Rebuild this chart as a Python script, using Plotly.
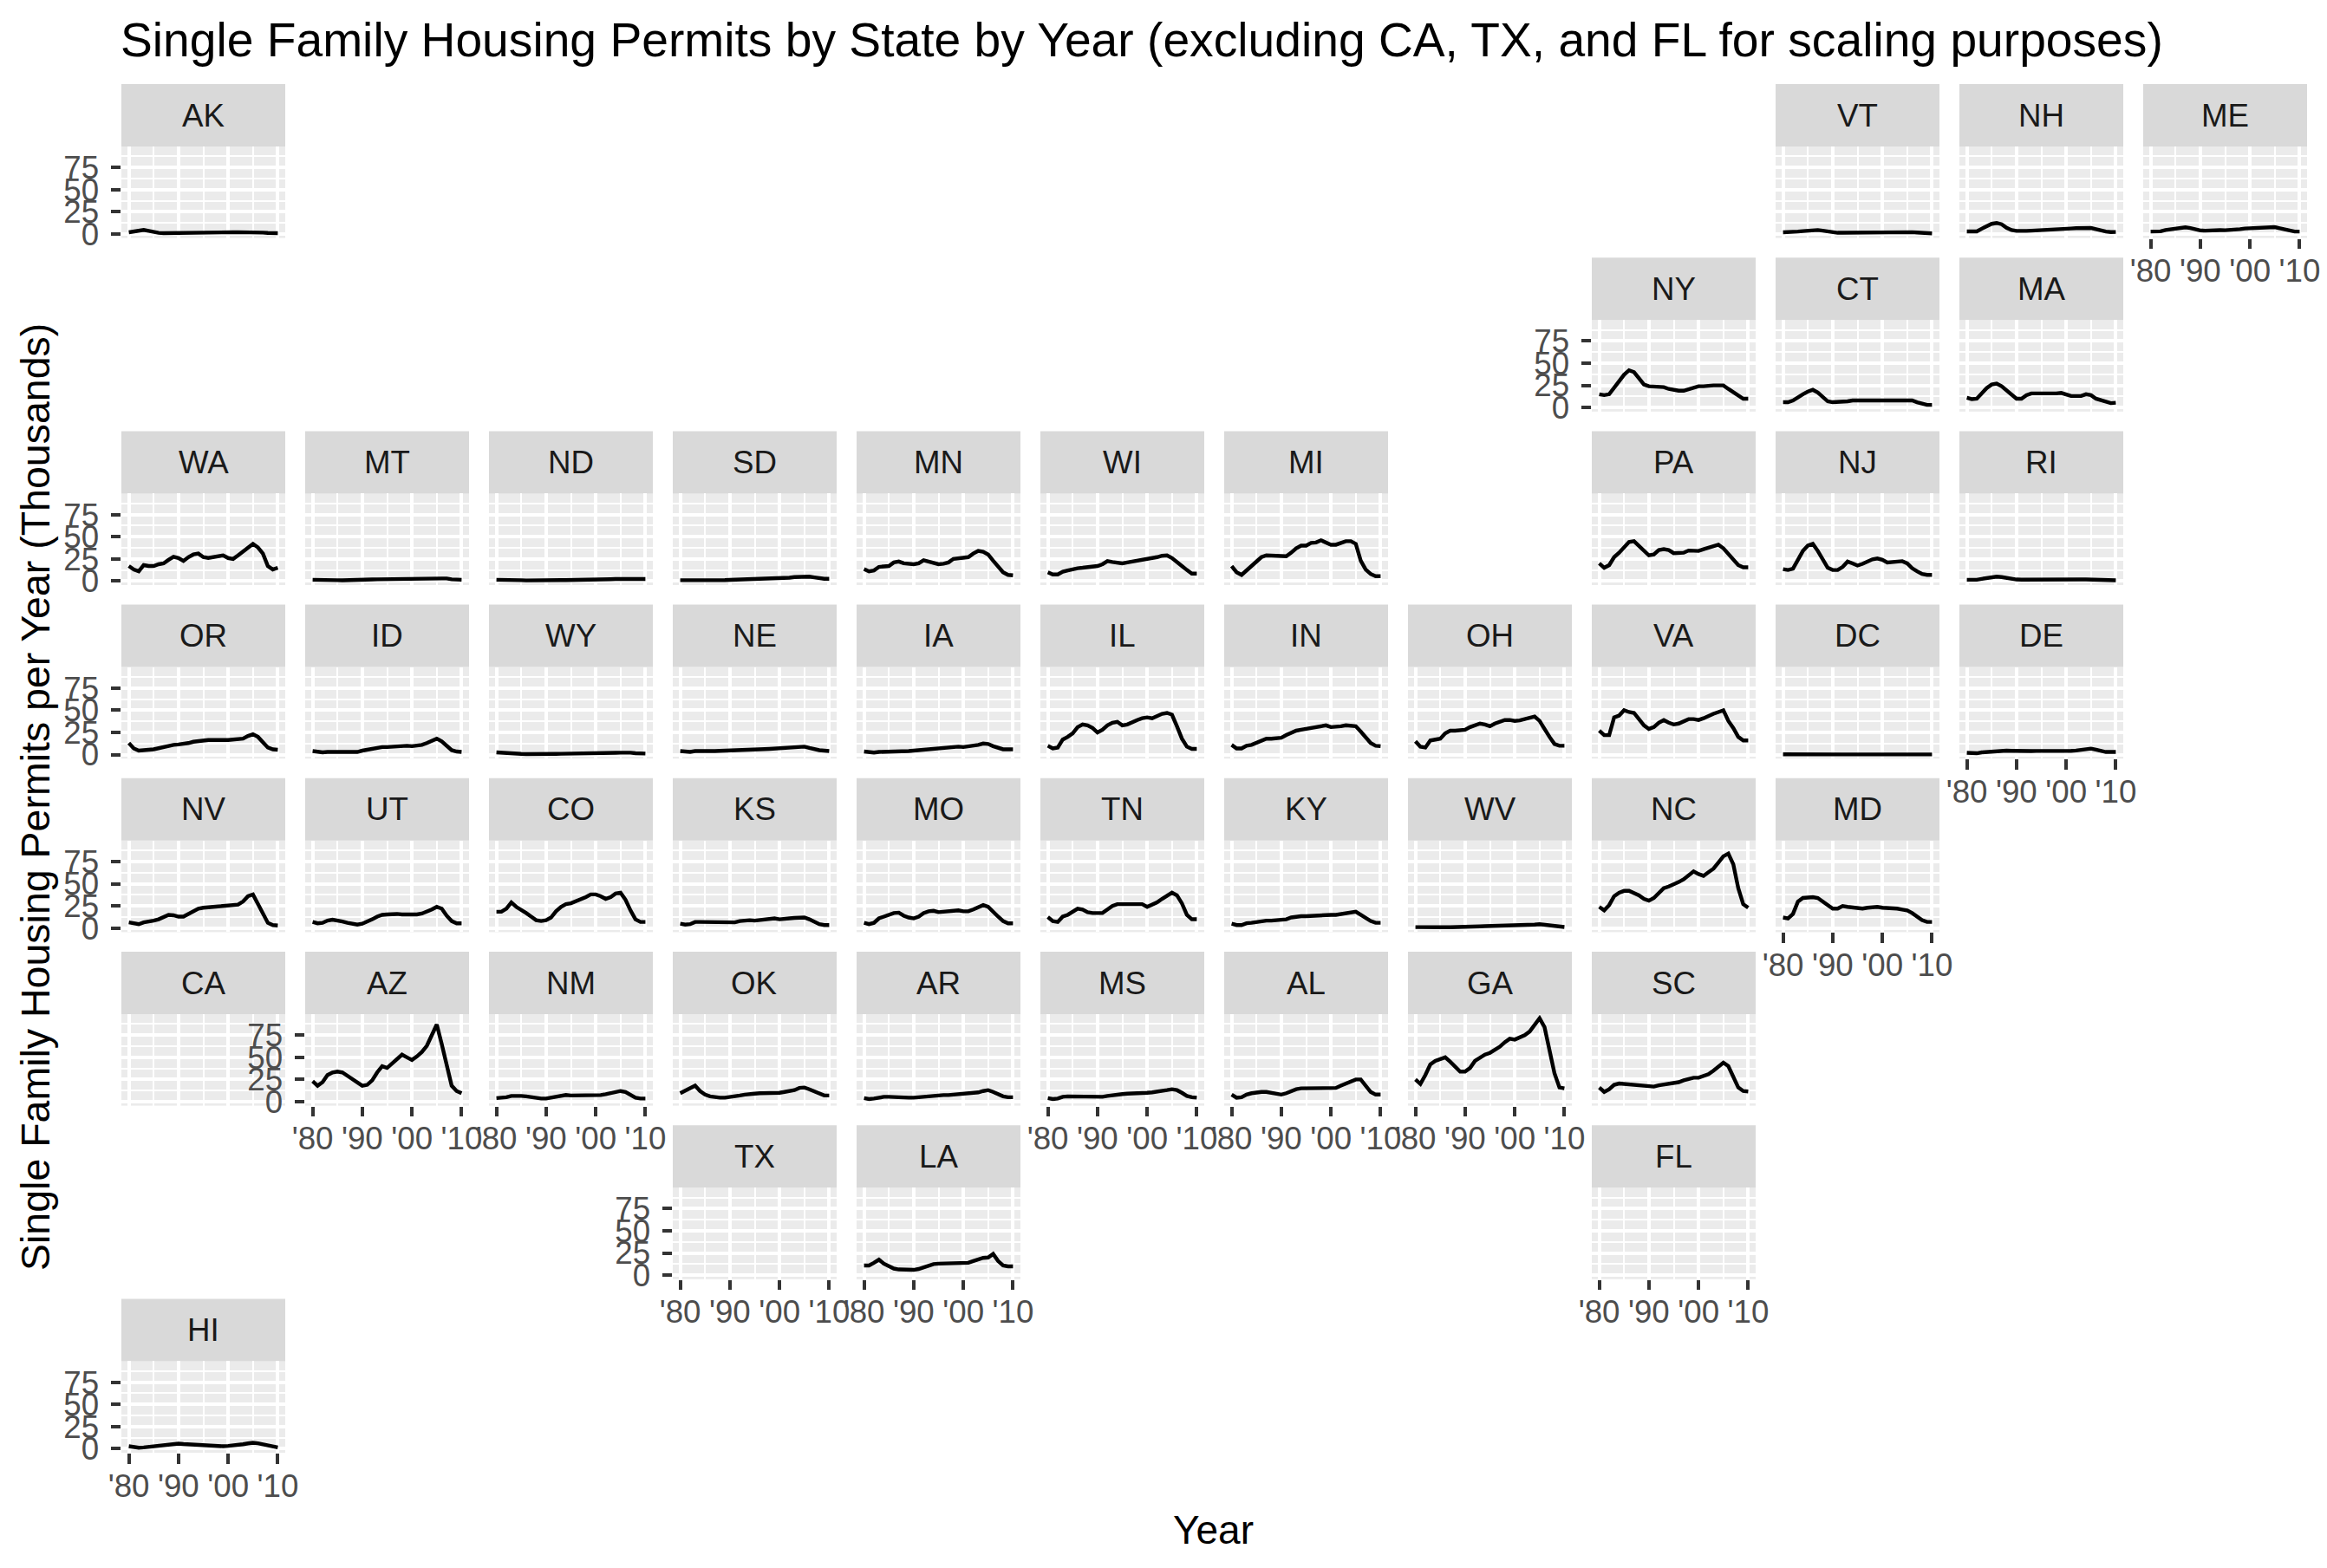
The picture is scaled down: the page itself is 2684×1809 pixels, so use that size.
import plotly.graph_objects as go

W, H = 2684, 1809
FONT = "Liberation Sans, Arial, sans-serif"

TITLE = "Single Family Housing Permits by State by Year (excluding CA, TX, and FL for scaling purposes)"
Y_TITLE = "Single Family Housing Permits per Year (Thousands)"
X_TITLE = "Year"

years = list(range(1980, 2011))
x_tick_vals = [1980, 1990, 2000, 2010]
x_tick_text = ["'80", "'90", "'00", "'10"]
x_minor_vals = [1985, 1995, 2005]
y_tick_vals = [0, 25, 50, 75]
y_tick_text = ["0", "25", "50", "75"]
y_minor_vals = [12.5, 37.5, 62.5, 87.5]

# grid position (row, col) of each state panel
state_grid = {
    "AK": (0, 0), "VT": (0, 9), "NH": (0, 10), "ME": (0, 11),
    "NY": (1, 8), "CT": (1, 9), "MA": (1, 10),
    "WA": (2, 0), "MT": (2, 1), "ND": (2, 2), "SD": (2, 3), "MN": (2, 4), "WI": (2, 5),
    "MI": (2, 6), "PA": (2, 8), "NJ": (2, 9), "RI": (2, 10),
    "OR": (3, 0), "ID": (3, 1), "WY": (3, 2), "NE": (3, 3), "IA": (3, 4), "IL": (3, 5),
    "IN": (3, 6), "OH": (3, 7), "VA": (3, 8), "DC": (3, 9), "DE": (3, 10),
    "NV": (4, 0), "UT": (4, 1), "CO": (4, 2), "KS": (4, 3), "MO": (4, 4), "TN": (4, 5),
    "KY": (4, 6), "WV": (4, 7), "NC": (4, 8), "MD": (4, 9),
    "CA": (5, 0), "AZ": (5, 1), "NM": (5, 2), "OK": (5, 3), "AR": (5, 4), "MS": (5, 5),
    "AL": (5, 6), "GA": (5, 7), "SC": (5, 8),
    "TX": (6, 3), "LA": (6, 4), "FL": (6, 8),
    "HI": (7, 0),
}
y_label_states = ["AK", "NY", "WA", "OR", "NV", "AZ", "TX", "HI"]
x_label_states = ["HI", "AZ", "NM", "TX", "LA", "MS", "AL", "GA", "FL", "MD", "DE", "ME"]

# Single family permits (thousands), 1980-2010
AK = [2, 3, 4, 4.6, 3.5, 2, 1.3, 1, 1, 1.1, 1.2, 1.4, 1.6, 1.8, 1.9, 2, 2, 2, 2, 2, 2, 2, 2.1, 2.2, 2.2, 2.2, 2, 1.6, 1.2, 1, 1]
VT = [2, 2, 2.2, 2.8, 3.3, 3.8, 4.2, 4.5, 3.8, 2.8, 1.8, 1.4, 1.4, 1.5, 1.5, 1.5, 1.5, 1.6, 1.8, 2.0, 2.1, 2.2, 2.3, 2.4, 2.5, 2.4, 2.1, 1.7, 1.2, 0.9, 0.8]
NH = [3, 2.5, 3, 6, 9, 11.5, 12.5, 11, 7, 4.5, 3.5, 3.2, 3.5, 3.8, 4, 4, 4.3, 4.8, 5.3, 5.8, 6, 6.2, 6.6, 7, 7.2, 6.8, 5.5, 4, 2.8, 2.2, 2.3]
ME = [2.8, 2.6, 3, 4.5, 5.5, 6.5, 7.3, 7.6, 6.8, 5, 4, 3.8, 4.2, 4.4, 4.4, 4.3, 4.5, 4.8, 5.5, 6.2, 6.4, 6.6, 7.2, 7.8, 8.2, 7.8, 6.5, 5, 3.5, 2.8, 2.8]
NY = [15, 14, 15, 22, 29, 37, 42, 40, 33, 26, 24, 24, 24, 23, 21, 19.5, 19, 19, 21, 23, 24, 24, 25, 25, 25, 25, 21, 17, 13, 10, 10]
CT = [6, 6, 8, 12, 15, 18, 20, 17, 12, 7, 6, 6, 7, 7, 8, 8, 8, 8, 8.5, 9, 9, 9, 8.5, 9, 9, 9, 8, 6, 4, 3, 3]
MA = [11, 9.5, 10, 16, 22, 26, 27, 24, 19, 14, 10, 10, 14, 16, 16, 15, 15, 15.5, 16, 16.5, 15, 13, 13, 13, 15, 14, 10, 8, 6, 5, 5.5]
WA = [17, 13, 11, 18, 17, 17, 19, 20, 24, 27.5, 26, 22.7, 27, 30, 31, 27, 26, 27, 27.5, 29, 26, 25, 29, 33, 37, 42, 38, 31, 17, 13, 15]
MT = [1.5, 1.2, 1, 1.2, 1.2, 1, 0.9, 0.9, 1, 1, 1.2, 1.5, 1.8, 2, 2.1, 2, 1.9, 2, 2.2, 2.4, 2.3, 2.5, 2.8, 3.2, 3.5, 3.8, 3.6, 3, 2, 1.5, 1.5]
ND = [1.5, 1.2, 1, 1.2, 1.1, 1, 0.8, 0.7, 0.7, 0.7, 0.8, 0.9, 1, 1.1, 1.2, 1.2, 1.3, 1.3, 1.4, 1.4, 1.5, 1.7, 1.9, 2.1, 2.3, 2.3, 2.1, 2, 2, 2.1, 2.4]
SD = [1, 0.9, 0.8, 0.9, 1, 1, 1, 1, 1, 1.1, 1.3, 1.5, 1.8, 2, 2.1, 2, 2, 2.2, 2.6, 2.8, 3, 3.2, 3.8, 4.5, 5, 5.4, 5, 4.2, 3.3, 2.6, 2.6]
MN = [13.5, 11, 12, 16, 16.5, 17, 21, 22, 20, 19.5, 19, 20, 23.5, 22, 20.5, 19, 19.5, 21, 25, 26, 26, 27, 31, 34, 33, 30, 23, 16, 10, 7, 6.5]
WI = [10, 7.5, 7.5, 10.5, 12, 13.5, 14.5, 15, 15.5, 16, 17, 19, 22.5, 21.5, 20.5, 20, 21, 22, 23, 24, 24, 25, 27, 28.5, 29, 26, 22, 17, 12.5, 8.5, 8.5]
MI = [17, 10, 7, 12, 18, 22, 27, 29, 29, 28.5, 28, 28, 32, 37, 40, 40, 43, 43.5, 46, 44, 41, 41, 43, 45, 45, 42, 23, 13, 8, 5.5, 5.5]
PA = [20, 15, 18, 27, 32, 38, 44, 45, 40, 34, 29, 30, 35, 36, 35, 31.5, 31.5, 32, 34.5, 34.5, 34, 36, 38, 39, 41, 37, 31, 24, 18, 15.5, 15.5]
NJ = [13.5, 12.5, 14, 25, 34, 40, 42, 34, 24, 15, 12.5, 12.5, 16, 22, 20, 17.5, 19.5, 22, 24.5, 25.5, 24, 21, 21.5, 22.5, 22.5, 20, 14.5, 11, 8, 7, 7]
RI = [1.5, 1.3, 1.5, 2.5, 3.5, 4.5, 5, 4.5, 3.5, 2.5, 1.8, 1.6, 1.7, 1.7, 1.7, 1.6, 1.6, 1.7, 1.8, 1.9, 2, 2, 2, 1.9, 1.9, 1.8, 1.6, 1.3, 1, 0.9, 0.9]
OR = [13, 7, 4.5, 5.5, 5.5, 6, 7.5, 8.5, 10, 11, 11.5, 12, 13, 14.5, 15.5, 16, 16.5, 16.5, 16, 16.5, 16.5, 17, 17.5, 18, 21, 23, 20, 14, 8, 6, 5.5]
ID = [4, 3, 2.5, 3, 3, 2.5, 2.5, 2.3, 2.3, 3, 4.5, 5.5, 7, 8, 8.5, 8.5, 9, 9, 9.5, 10, 9.5, 10, 11, 13, 15.5, 18, 15, 10, 5, 3.5, 3]
WY = [2.5, 2, 1.5, 1.3, 1, 0.8, 0.6, 0.5, 0.5, 0.6, 0.7, 0.8, 0.9, 1, 1, 1, 1, 1, 1.1, 1.2, 1.3, 1.4, 1.6, 1.8, 2, 2.2, 2.4, 2.2, 1.6, 1.2, 1.2]
NE = [4, 3, 3, 4, 3.8, 3.8, 4, 4, 4.2, 4.3, 4.5, 5, 5.5, 5.8, 5.8, 5.5, 6, 6.2, 6.5, 6.8, 6.8, 7, 7.5, 8, 8.5, 9, 7.5, 6, 5, 4.5, 4]
IA = [3.5, 2.8, 2.3, 3, 3, 3, 3, 3.3, 3.5, 4, 4.5, 5, 6.5, 7, 7.5, 7.5, 8, 8, 8.5, 9, 8.5, 9, 10, 11, 12.5, 12, 9.5, 7.5, 6, 6, 6]
IL = [10, 7, 8, 17, 20, 24, 31, 34, 33, 30, 25, 28, 33, 36, 37, 33, 34, 37, 39, 41, 42, 41, 44, 46, 47, 45, 32, 18, 9, 6.5, 6.5]
IN = [11, 7, 7, 10, 11, 13, 16, 18, 18, 18.5, 19, 22, 25, 27, 28, 29, 30, 31, 32, 33, 31, 31, 32, 33, 33, 32, 26, 19, 13, 10, 9.5]
OH = [15, 9, 8, 16, 17, 18, 24, 27, 27, 27, 28, 31, 33, 35, 34, 32, 35, 37, 39, 39, 38, 38.5, 40, 42, 43, 38, 28, 20, 12, 10, 10]
VA = [27, 22, 22, 42, 44, 50, 48, 47, 40, 33, 29, 31, 36, 39, 36, 34, 35, 37, 40, 40, 39, 41, 44, 46, 48, 50, 38, 30, 20, 16, 16]
DC = [0.3, 0.2, 0.2, 0.3, 0.3, 0.3, 0.3, 0.3, 0.3, 0.3, 0.2, 0.2, 0.2, 0.2, 0.2, 0.2, 0.2, 0.2, 0.3, 0.3, 0.3, 0.3, 0.3, 0.4, 0.4, 0.4, 0.4, 0.3, 0.2, 0.2, 0.2]
DE = [2, 1.5, 1.5, 2.5, 3, 3.5, 4, 4.5, 4.5, 4.3, 4, 3.8, 3.8, 4, 4.1, 4, 4, 4, 4.2, 4.5, 4.3, 4.3, 4.6, 5.5, 6.5, 6.8, 5.5, 4, 3, 3, 3]
NV = [6.5, 5, 4.5, 6.5, 7, 8.5, 10, 13, 15, 14.5, 13, 13, 16, 20, 22, 23, 24, 24, 24.5, 25, 25, 25.5, 26.5, 30, 36, 38, 27, 15, 6, 3.5, 3]
UT = [7, 5.5, 6, 8.5, 9.5, 9, 7.5, 6, 4.5, 4, 5, 7, 10, 13, 15, 15.5, 16, 16, 15.5, 15.5, 15, 15.5, 16.5, 18.5, 21, 24, 22, 14, 8, 5.5, 5.5]
CO = [18.5, 18.5, 22, 29, 24, 21, 17, 13, 9, 8, 9, 12, 19, 24, 27, 28, 30, 32, 35, 38, 38, 36, 33, 35, 39, 40, 32, 20, 10, 7, 7]
KS = [5, 4, 4.5, 7, 7, 7, 7, 6.5, 6, 6, 6, 6.5, 8, 9, 9, 8.5, 9, 9.5, 10.5, 11, 10, 10, 11, 11.5, 12, 12, 10, 7, 4.5, 3.5, 3.5]
MO = [6, 4.5, 6, 11, 13, 15.5, 17, 17.5, 14, 12, 11, 13, 17, 19, 19.5, 18, 18.5, 18.5, 19.5, 20, 19, 19, 21, 23.5, 26, 24, 18, 13, 8, 5.5, 5.5]
TN = [12.5, 8, 7, 13, 15, 18, 22, 21, 18, 17, 16.5, 17, 21, 25, 27, 27, 28, 28, 28, 27, 24, 26, 29, 33, 37, 40, 37, 28, 15, 10, 10]
KY = [5, 3.5, 3.5, 5.5, 6, 7, 8, 8.5, 8.5, 9, 9.5, 10, 12, 13, 13.5, 13.5, 14, 14.5, 15, 15.5, 15, 15, 16, 17, 18, 18.5, 15, 11.5, 8, 6, 6]
WV = [1.2, 1, 0.9, 1, 1, 1, 1, 1, 1, 1, 1.1, 1.2, 1.6, 2, 2.2, 2.3, 2.4, 2.5, 2.6, 2.7, 2.8, 3, 3.2, 3.5, 4, 4.5, 4, 3, 2, 1.5, 1.3]
NC = [24, 20, 26, 36, 40, 42, 42, 40, 37, 33, 31, 34, 40, 45, 47, 49, 52, 55, 60, 64, 61, 59, 63, 67, 74, 81, 84, 72, 45, 27, 23]
MD = [12, 11, 16, 30, 34, 35, 35, 34, 30, 26, 22, 22, 25, 24, 23, 22, 22, 23, 24, 24, 23, 23, 23, 22, 21, 20, 17, 13, 9, 7, 7]
AZ = [23, 18, 22, 30, 33, 34, 33, 29, 25, 21, 18, 19, 24, 33, 40, 38, 43, 47, 53, 50, 47, 51, 56, 63, 74, 87, 65, 40, 18, 12, 9.5]
NM = [4, 4, 5, 6.5, 7, 6.5, 6, 5, 4, 3.5, 3.5, 4.5, 6, 7, 7.5, 7, 7, 7, 7, 7, 7, 7.5, 8.5, 10, 11.5, 12, 11, 7.5, 4.5, 3.5, 3.5]
OK = [9.5, 12, 15.5, 18, 12, 8, 6, 5, 4.5, 4.5, 5, 5.5, 7, 8, 9, 9, 9.5, 9.5, 10, 10.5, 10, 11, 12, 13, 15.5, 16, 14, 12, 10, 7, 7]
AR = [4, 3, 3.5, 5, 5.5, 5.5, 5, 4.5, 4.5, 4.5, 4.5, 5, 6.5, 7, 7.5, 7.5, 7.5, 7.5, 8, 8.5, 8, 8.5, 9.5, 10.5, 12, 13, 11, 8, 6, 5, 5]
MS = [4, 3, 3.5, 5.5, 6, 6, 5.5, 5, 5, 5, 5, 5.5, 6.5, 7.5, 8, 8.5, 9, 9, 9.5, 10, 10, 10.5, 11, 12, 13, 14, 13, 10, 6.5, 5, 4.5]
AL = [8, 4.5, 5, 8, 9.5, 10.5, 11, 11, 10, 9, 8, 9.5, 12, 14, 15, 15, 15, 15, 15, 15, 14.5, 15.5, 18, 20, 23, 25, 25, 18, 11, 8, 8]
GA = [25, 20, 30, 42, 46, 48, 50, 45, 39, 34, 34, 38, 46, 50, 53, 55, 58, 62, 67, 71, 70, 72, 75, 79, 86, 94, 84, 58, 32, 16, 15]
SC = [16, 11, 14, 19, 20.5, 20, 19, 18.5, 18, 17.5, 16.5, 17, 18.5, 19.5, 20.5, 20.5, 22, 24, 25.5, 27, 27, 28.5, 31, 35, 40, 44, 40, 28, 16, 12, 11.5]
LA = [11, 11, 14, 17.5, 13, 10, 7.5, 6.5, 6, 6, 6, 7, 9, 11.5, 12.5, 13, 13, 13.3, 13.5, 13.5, 13.5, 14, 16, 18, 19.5, 20, 24, 16, 11, 10, 10]
HI = [2.8, 2, 1.2, 1.5, 2.2, 3, 3.8, 4.5, 5.2, 5.7, 5.8, 5.3, 5, 4.5, 4, 3.6, 3, 2.6, 2.4, 2.8, 3.2, 3.6, 4.2, 5, 6, 6.8, 6.2, 5, 3, 1.8, 1.5]
CA, TX, FL = [], [], []  # excluded for scaling purposes

permits = {
    "AK": AK, "VT": VT, "NH": NH, "ME": ME, "NY": NY, "CT": CT, "MA": MA,
    "WA": WA, "MT": MT, "ND": ND, "SD": SD, "MN": MN, "WI": WI, "MI": MI,
    "PA": PA, "NJ": NJ, "RI": RI, "OR": OR, "ID": ID, "WY": WY, "NE": NE,
    "IA": IA, "IL": IL, "IN": IN, "OH": OH, "VA": VA, "DC": DC, "DE": DE,
    "NV": NV, "UT": UT, "CO": CO, "KS": KS, "MO": MO, "TN": TN, "KY": KY,
    "WV": WV, "NC": NC, "MD": MD, "CA": CA, "AZ": AZ, "NM": NM, "OK": OK,
    "AR": AR, "MS": MS, "AL": AL, "GA": GA, "SC": SC, "TX": TX, "LA": LA,
    "FL": FL, "HI": HI,
}

# ---- layout geometry (pixels) ----
X0, COLSTEP, PW = 140, 212.0, 189.0
Y0, ROWSTEP, STRIP_H, PANEL_H = 97.0, 200.2, 72.0, 177.6


def px(x):
    return x / W


def py(y):
    return 1 - y / H


allv = [v for s in permits.values() for v in s]
lo, hi = min(allv), max(allv)
pad = 0.05 * (hi - lo)
y_range = [lo - pad, hi + pad]
x_range = [years[0] - 0.05 * (years[-1] - years[0]), years[-1] + 0.05 * (years[-1] - years[0])]

fig = go.Figure()
layout = dict(
    template="none",
    width=W, height=H, autosize=False,
    margin=dict(l=0, r=0, t=0, b=0, pad=0, autoexpand=False),
    paper_bgcolor="white", plot_bgcolor="#EBEBEB", showlegend=False,
    font=dict(family=FONT),
)
shapes, annotations = [], []

tickfont = dict(family=FONT, size=36.7, color="#4D4D4D")

for i, (st, (r, c)) in enumerate(state_grid.items(), start=1):
    sfx = "" if i == 1 else str(i)
    x0 = X0 + c * COLSTEP
    x1 = x0 + PW
    ys = Y0 + r * ROWSTEP
    ptop = ys + STRIP_H
    pbot = ys + PANEL_H
    showx = st in x_label_states
    showy = st in y_label_states
    layout["xaxis" + sfx] = dict(
        domain=[px(x0), px(x1)], anchor="y" + sfx, range=x_range, automargin=False,
        tickmode="array", tickvals=x_tick_vals, ticktext=x_tick_text,
        showticklabels=showx, ticks="outside" if showx else "",
        ticklen=11.5, tickwidth=4.4, tickcolor="#333333", tickangle=0,
        ticklabelstandoff=-6, tickfont=tickfont,
        showgrid=True, gridcolor="white", gridwidth=4.4,
        zeroline=False, showline=False, fixedrange=True,
        minor=dict(tickvals=x_minor_vals, showgrid=True, gridcolor="white", gridwidth=2.2, ticks=""),
    )
    layout["yaxis" + sfx] = dict(
        domain=[py(pbot), py(ptop)], anchor="x" + sfx, range=y_range, automargin=False,
        tickmode="array", tickvals=y_tick_vals, ticktext=y_tick_text,
        showticklabels=showy, ticks="outside" if showy else "",
        ticklen=11.5, tickwidth=4.4, tickcolor="#333333",
        ticklabelstandoff=6, tickfont=tickfont,
        showgrid=True, gridcolor="white", gridwidth=4.4,
        zeroline=False, showline=False, fixedrange=True,
        minor=dict(tickvals=y_minor_vals, showgrid=True, gridcolor="white", gridwidth=2.2, ticks=""),
    )
    vals = permits[st]
    fig.add_trace(go.Scatter(
        x=years[:len(vals)], y=vals, mode="lines",
        line=dict(color="black", width=4.4),
        xaxis="x" + sfx, yaxis="y" + sfx, hoverinfo="skip", showlegend=False,
    ))
    shapes.append(dict(
        type="rect", xref="paper", yref="paper",
        x0=px(x0), x1=px(x1), y0=py(ptop), y1=py(ys),
        fillcolor="#D9D9D9", line=dict(width=0), layer="below",
    ))
    annotations.append(dict(
        text=st, xref="paper", yref="paper", x=px((x0 + x1) / 2), y=py(ys + STRIP_H / 2),
        xanchor="center", yanchor="middle", showarrow=False,
        font=dict(family=FONT, size=36.7, color="#1A1A1A"),
    ))

annotations.append(dict(
    text=TITLE, xref="paper", yref="paper", x=px(137), y=py(46),
    xanchor="left", yanchor="middle", showarrow=False,
    font=dict(family=FONT, size=55.2, color="black"),
))
annotations.append(dict(
    text=Y_TITLE, xref="paper", yref="paper", x=px(41), y=py(920),
    xanchor="center", yanchor="middle", showarrow=False, textangle=-90,
    font=dict(family=FONT, size=46.5, color="black"),
))
annotations.append(dict(
    text=X_TITLE, xref="paper", yref="paper", x=px(1399), y=py(1765),
    xanchor="center", yanchor="middle", showarrow=False,
    font=dict(family=FONT, size=46, color="black"),
))

layout["shapes"] = shapes
layout["annotations"] = annotations
fig.update_layout(**layout)
fig.write_html("out.html")
